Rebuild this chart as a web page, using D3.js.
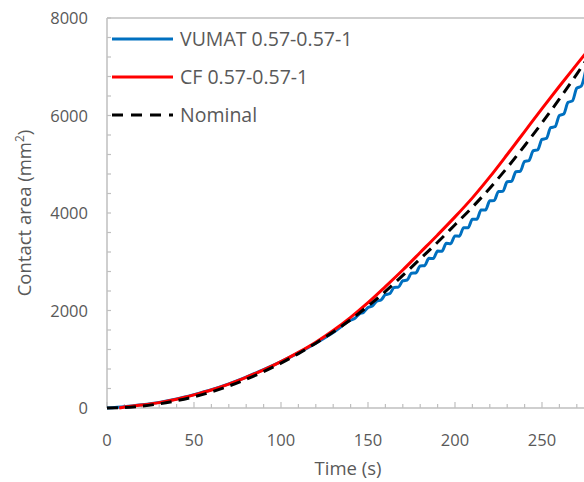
<!DOCTYPE html>
<html>
<head>
<meta charset="utf-8">
<script src="https://cdn.jsdelivr.net/npm/d3@7"></script>
<style>
  body { margin: 0; background: #fff; }
  svg text { font-family: "Open Sans", sans-serif; fill: #595959; }
</style>
</head>
<body>
<div id="chart"></div>
<script>
// series names
let seriesNames = ["VUMAT 0.57-0.57-1", "CF 0.57-0.57-1", "Nominal"];

// VUMAT (blue) - time (s) / contact area (mm2)
let vumatTime = [0, 10, 20, 30, 40, 50, 60, 70, 80, 90, 100, 110, 120, 130, 140,
    142.5, 145, 147.5, 150, 152.5, 155, 157.5, 160, 162.5, 165, 167.5, 170, 172.5, 175, 177.5,
    180, 182.5, 185, 187.5, 190, 192.5, 195, 197.5, 200, 202.5, 205, 207.5, 210, 212.5, 215, 217.5,
    220, 222.5, 225, 227.5, 230, 232.5, 235, 237.5, 240, 242.5, 245, 247.5, 250, 252.5, 255, 257.5,
    260, 262.5, 265, 267.5, 270, 272.5, 275];
let vumatArea = [0, 25, 65, 115, 185, 275, 375, 495, 635, 785, 950, 1130, 1330, 1550, 1800,
    1840, 1930, 1965, 2060, 2090, 2190, 2215, 2325, 2345, 2470, 2480, 2610, 2625, 2765, 2770,
    2915, 2920, 3070, 3065, 3220, 3215, 3380, 3370, 3530, 3525, 3700, 3695, 3870, 3870, 4060, 4060,
    4250, 4255, 4440, 4445, 4640, 4650, 4845, 4855, 5060, 5075, 5280, 5295, 5510, 5530, 5750, 5770,
    6000, 6030, 6270, 6300, 6560, 6600, 6910];

// CF (red)
let cfTime = [7, 10, 20, 30, 40, 50, 60, 70, 80, 90, 100, 110, 120, 130, 140, 150, 160, 170,
    180, 190, 200, 210, 220, 230, 240, 250, 260, 270, 280];
let cfArea = [0, 20, 60, 110, 180, 270, 370, 490, 630, 780, 950, 1140, 1350, 1590, 1860, 2160,
    2490, 2830, 3190, 3550, 3920, 4310, 4740, 5200, 5670, 6140, 6600, 7050, 7490];

// Nominal (black dashed)
let nomTime = [0, 10, 20, 30, 40, 50, 60, 70, 80, 90, 100, 110, 120, 130, 140, 150, 160, 170,
    180, 190, 200, 210, 220, 230, 240, 250, 260, 270, 280];
let nomArea = [0, 10, 40, 85, 150, 230, 330, 450, 590, 745, 920, 1115, 1330, 1560, 1810, 2090,
    2390, 2720, 3060, 3400, 3760, 4120, 4510, 4930, 5380, 5850, 6340, 6850, 7380];

let xTicks = [0, 50, 100, 150, 200, 250];
let yTicks = [0, 2000, 4000, 6000, 8000];

let width = 584, height = 482;
let margin = {top: 18, left: 107, bottom: 74};

let svg = d3.select("#chart").append("svg")
    .attr("width", width)
    .attr("height", height);

let x = d3.scaleLinear().domain([0, 300]).range([margin.left, margin.left + 522]);
let y = d3.scaleLinear().domain([0, 8000]).range([height - margin.bottom, margin.top]);

let axisColor = "#bfbfbf";

// top border of plot area
svg.append("line")
    .attr("x1", margin.left).attr("x2", width)
    .attr("y1", y(8000)).attr("y2", y(8000))
    .attr("stroke", axisColor).attr("stroke-width", 1.5);

// minor / major ticks drawn inside
d3.range(0, 301, 10).forEach(function (v) {
    let major = v % 50 === 0;
    svg.append("line")
        .attr("x1", x(v)).attr("x2", x(v))
        .attr("y1", y(0)).attr("y2", y(0) - (major ? 6 : 4))
        .attr("stroke", axisColor).attr("stroke-width", 1.2);
});
d3.range(0, 8001, 400).forEach(function (v) {
    svg.append("line")
        .attr("x1", x(0)).attr("x2", x(0) + 4)
        .attr("y1", y(v)).attr("y2", y(v))
        .attr("stroke", axisColor).attr("stroke-width", 1.2);
});

// axis lines
svg.append("line")
    .attr("x1", x(0)).attr("x2", x(0))
    .attr("y1", y(0)).attr("y2", y(8000))
    .attr("stroke", axisColor).attr("stroke-width", 1.5);
svg.append("line")
    .attr("x1", x(0)).attr("x2", width)
    .attr("y1", y(0)).attr("y2", y(0))
    .attr("stroke", axisColor).attr("stroke-width", 1.5);

// tick labels
svg.selectAll(".xlab").data(xTicks).enter().append("text")
    .attr("class", "xlab")
    .attr("x", d => x(d))
    .attr("y", y(0) + 38)
    .attr("text-anchor", "middle")
    .style("font-size", "16.5px")
    .text(d => d);

svg.selectAll(".ylab").data(yTicks).enter().append("text")
    .attr("class", "ylab")
    .attr("x", x(0) - 19)
    .attr("y", d => y(d) + 6)
    .attr("text-anchor", "end")
    .style("font-size", "16.5px")
    .text(d => d);

// axis titles
svg.append("text")
    .attr("x", 348).attr("y", 475)
    .attr("text-anchor", "middle")
    .style("font-size", "18.5px")
    .text("Time (s)");

let yt = svg.append("text")
    .attr("transform", "translate(31,213) rotate(-90)")
    .attr("text-anchor", "middle")
    .style("font-size", "18.5px");
yt.append("tspan").text("Contact area (mm");
yt.append("tspan").attr("dy", -7).style("font-size", "12px").text("2");
yt.append("tspan").attr("dy", 7).text(")");

// lines
let line = d3.line()
    .x(d => x(d[0]))
    .y(d => y(d[1]))
    .curve(d3.curveMonotoneX);

let series = [
    {name: seriesNames[0], t: vumatTime, v: vumatArea, color: "#0070c0", dash: null},
    {name: seriesNames[1], t: cfTime, v: cfArea, color: "#ff0000", dash: null},
    {name: seriesNames[2], t: nomTime, v: nomArea, color: "#000000", dash: "11,7"}
];

series.forEach(function (s) {
    svg.append("path")
        .datum(d3.zip(s.t, s.v))
        .attr("d", line)
        .attr("fill", "none")
        .attr("stroke", s.color)
        .attr("stroke-width", 3)
        .attr("stroke-dasharray", s.dash);
});

// legend
let legend = svg.append("g");
series.forEach(function (s, i) {
    let ly = 39 + i * 38;
    legend.append("line")
        .attr("x1", 112).attr("x2", 173)
        .attr("y1", ly).attr("y2", ly)
        .attr("stroke", s.color)
        .attr("stroke-width", 3)
        .attr("stroke-dasharray", s.dash ? "11,8" : null);
    legend.append("text")
        .attr("x", 180).attr("y", ly + 7)
        .style("font-size", "19.5px")
        .text(s.name);
});
</script>
</body>
</html>
